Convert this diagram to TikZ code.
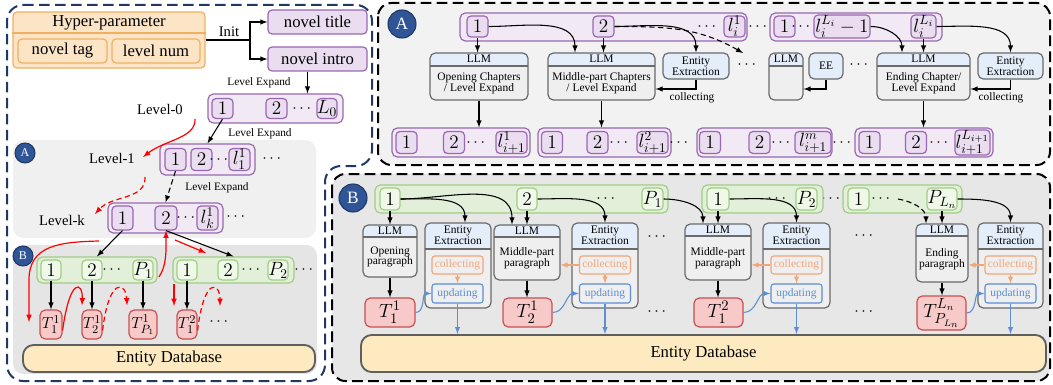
\documentclass[tikz,border=0pt]{standalone}
\usepackage{amsmath}
\usepackage{amssymb}
\usepackage{fontspec}
\setmainfont{Liberation Serif}
\usepackage{tikz}
\usetikzlibrary{arrows}
\usetikzlibrary{calc,shapes}

\definecolor{navy}{HTML}{1F3864}
\definecolor{navyfill}{HTML}{2F5597}
\definecolor{orgfill}{HTML}{FCE4C6}
\definecolor{orgline}{HTML}{F0B060}
\definecolor{purfill}{HTML}{F1EAF4}
\definecolor{purin}{HTML}{E9DDEF}
\definecolor{purline}{HTML}{9A68B2}
\definecolor{grnfill}{HTML}{E2EFD9}
\definecolor{grnin}{HTML}{EFF8E9}
\definecolor{grnline}{HTML}{A2CD86}
\definecolor{redfill}{HTML}{F8C9C9}
\definecolor{redline}{HTML}{C8504F}
\definecolor{dbfill}{HTML}{FDEAC0}
\definecolor{dbline}{HTML}{5F5F5F}
\definecolor{boxline}{HTML}{6A6A6A}
\definecolor{hdrfill}{HTML}{E4EEFA}
\definecolor{bodyfill}{HTML}{EFEFEF}
\definecolor{colline}{HTML}{F3A57A}
\definecolor{updline}{HTML}{5B8ED4}
\definecolor{panelA}{HTML}{F2F2F2}
\definecolor{panelB}{HTML}{E7E7E7}
\definecolor{leftA}{HTML}{F0F0F0}
\definecolor{leftB}{HTML}{E5E5E5}

\tikzset{
  wh/.style 2 args={minimum width=#1*0.75pt, minimum height=#2*0.75pt},
  txt/.style={font=\fontsize{12.5}{14}\selectfont},
  lvl/.style={font=\fontsize{11}{12}\selectfont},
  tiny/.style={font=\fontsize{8.5}{9}\selectfont},
  dots/.style={font=\fontsize{12}{14}\selectfont, inner sep=0pt},
  orgbox/.style={draw=orgline, fill=orgfill, rounded corners=3pt, line width=0.9pt, inner sep=0pt, txt},
  purout/.style={draw=purline, fill=purfill, rounded corners=4pt, line width=0.9pt},
  purbox/.style={draw=purline, fill=purin, rounded corners=3pt, line width=0.9pt, inner sep=0pt, font=\fontsize{14}{15}\selectfont},
  grnout/.style={draw=grnline, fill=grnfill, rounded corners=4pt, line width=0.9pt},
  grnbox/.style={draw=grnline, fill=grnin, rounded corners=3pt, line width=0.9pt, inner sep=0pt, font=\fontsize{14}{15}\selectfont},
  tbox/.style={draw=redline, fill=redfill, rounded corners=4pt, line width=0.9pt, inner sep=0pt, font=\fontsize{12.5}{14}\selectfont},
  tbig/.style={font=\fontsize{15}{16}\selectfont},
  dbbox/.style={draw=dbline, fill=dbfill, rounded corners=8pt, line width=1.4pt, inner sep=0pt, txt},
  llm/.style={draw=boxline, fill=bodyfill, rounded corners=4pt, line width=0.9pt, inner sep=0pt,
    path picture={\fill[hdrfill] (path picture bounding box.north west) rectangle ([yshift=-#1]path picture bounding box.north east);
      \draw[boxline, line width=0.9pt] ([yshift=-#1]path picture bounding box.north west) -- ([yshift=-#1]path picture bounding box.north east);}},
  eebox/.style={draw=boxline, fill=hdrfill, rounded corners=4pt, line width=0.9pt, inner sep=0pt, align=center, font=\fontsize{8.6}{8.4}\selectfont},
  hl/.style={anchor=center, inner sep=0pt, align=center, font=\fontsize{8.6}{8}\selectfont},
  colbox/.style={draw=colline, text=colline, rounded corners=2pt, line width=0.8pt, inner sep=0pt, font=\fontsize{8.6}{9}\selectfont},
  updbox/.style={draw=updline, text=updline, rounded corners=2pt, line width=0.8pt, inner sep=0pt, font=\fontsize{8.6}{9}\selectfont},
  circ/.style={circle, draw=navy, fill=navyfill, text=white, line width=0.8pt, inner sep=0pt},
  arr/.style={->, >=latex, line width=0.8pt},
  redarr/.style={->, >=latex, draw=red, line width=0.9pt},
  colarr/.style={->, >=latex, draw=colline, line width=0.8pt},
  updarr/.style={->, >=latex, draw=updline, line width=0.8pt},
  dsh/.style={dash pattern=on 4pt off 2.5pt},
  panel/.style={line width=1.5pt, dash pattern=on 8pt off 4pt, rounded corners=10pt},
}

\begin{document}
\begin{tikzpicture}[x=0.75pt, y=-0.75pt]
\useasboundingbox (0,0) rectangle (1053,385);

% panels
\draw[panel, draw=navy, rounded corners=12pt] (7,5) -- (372,5) -- (372,166) -- (325,166) -- (325,381) -- (7,381) -- cycle;
\fill[leftA, rounded corners=8pt] (13,140) rectangle (316,238);
\fill[leftB, rounded corners=8pt] (13,245) rectangle (317,374);
\draw[panel, fill=panelA] (378,3) rectangle (1050,165);
\draw[panel, fill=panelB] (332,174) rectangle (1050,381);

% hyper-parameter and init
\node[orgbox, wh={192}{56}] (hp) at (109,40) {};
\draw[orgline, line width=0.9pt] ([shift={(0,-7)}]hp.west) -- ([shift={(0,-7)}]hp.east);
\node[txt] (hpt) at (109,22.5) {Hyper-parameter};
\node[orgbox, wh={89}{24}] (tag) at (62.5,51) {novel tag};
\node[orgbox, wh={88}{24}] (lvn) at (156,51) {level num};
\node[purbox, txt, wh={99}{24}] (title) at (317.5,22) {novel title};
\node[purbox, txt, wh={99}{24}] (intro) at (317.5,59) {novel intro};
\coordinate (init) at (250,40);
\draw[line width=0.9pt] (hp.east) -- (init);
\draw[arr] (init) |- (title.west);
\draw[arr] (init) |- (intro.west);
\node[lvl] (initl) at (229,32) {Init};

% level-0
\node[purout, wh={135}{29}] (l0) at (275.5,108.5) {};
\node[purbox, wh={21}{20}] (l0a) at (222.5,108.5) {$1$};
\node[purbox, wh={21}{20}] (l0b) at (276.5,108.5) {$2$};
\node[dots] (l0d) at (303,108.5) {$\cdots$};
\node[purbox, wh={20}{20}] (l0c) at (327,108.5) {$L_0$};
\coordinate (ie) at ([shift={(-10,0)}]intro.south);
\draw[arr] (ie) -- (ie |- l0.north);
\node[tiny] (le0) at (259,83) {Level Expand};
\node[lvl] (lv0) at (160,109) {Level-0};

% level-1
\node[purout, wh={95}{31}] (l1) at (207.5,159.5) {};
\node[purbox, wh={21}{22}] (l1a) at (175.5,159.5) {$1$};
\node[purbox, wh={21}{22}] (l1b) at (201.5,159.5) {$2$};
\node[dots] (l1d) at (220,159.5) {$\cdots$};
\node[purbox, wh={21}{22}] (l1c) at (239.5,159.5) {$l_1^1$};
\node[dots] (l1e) at (273,159) {$\cdots$};
\node[tiny] (le1) at (260,134) {Level Expand};
\node[lvl] (lv1) at (112,158) {Level-1};
\draw[arr] (l0a.south) -- (l1.north);

% level-k
\node[purout, wh={115}{30}] (lk) at (165.5,218) {};
\node[purbox, wh={21}{24}] (lka) at (122.5,218) {$1$};
\node[purbox, wh={22}{24}] (lkb) at (166,218) {$2$};
\node[dots] (lkd) at (187,218) {$\cdots$};
\node[purbox, wh={21}{24}] (lkc) at (207.5,218) {$l_k^1$};
\node[dots] (lke) at (237,217) {$\cdots$};
\node[tiny] (le2) at (217,188) {Level Expand};
\node[lvl] (lvk) at (62,220) {Level-k};
\draw[arr, dsh] (l1a.south) -- (lk.north);

\node[circ, minimum size=15pt, font=\fontsize{9}{10}\selectfont] (ca1) at (25,153) {A};

% paragraphs, left
\node[grnout, wh={120}{26}] (g1) at (97,270) {};
\node[grnbox, wh={20}{20}] (g1a) at (51,270) {$1$};
\node[grnbox, wh={20}{20}] (g1b) at (92,270) {$2$};
\node[dots] (g1d) at (113,270) {$\cdots$};
\node[grnbox, wh={20}{20}] (g1c) at (143,270) {$P_1$};
\node[grnout, wh={121}{26}] (g2) at (233.5,270) {};
\node[grnbox, wh={20}{20}] (g2a) at (187,270) {$1$};
\node[grnbox, wh={20}{20}] (g2b) at (228,270) {$2$};
\node[dots] (g2d) at (252,270) {$\cdots$};
\node[grnbox, wh={20}{20}] (g2c) at (278,270) {$P_2$};
\node[dots] (g2e) at (305,270) {$\cdots$};
\draw[arr] (lka.south) -- (g1.north);
\draw[arr] (lkb.south) -- (g2.north);

\node[circ, minimum size=15pt, font=\fontsize{9}{10}\selectfont] (cb1) at (23,256) {B};

\node[tbox, wh={22}{29}] (t11) at (51,324.5) {$T_1^1$};
\node[tbox, wh={20}{29}] (t21) at (92,324.5) {$T_2^1$};
\node[tbox, wh={28}{29}] (tp1) at (143,324.5) {$T_{P_1}^1$};
\node[tbox, wh={20}{29}] (t12) at (187,324.5) {$T_1^2$};
\node[dots] (td) at (220,322) {$\cdots$};
\draw[arr] (g1a.south) -- (t11.north);
\draw[arr] (g1b.south) -- (t21.north);
\draw[arr] (g1c.south) -- (tp1.north);
\draw[arr] (g2a.south) -- (t12.north);

\node[dbbox, wh={292}{27}] (db1) at (169,358.5) {Entity Database};

% red flow, left
\coordinate (r0) at (195,119);
\coordinate (r1) at (143,157);
\coordinate (r2) at (145,177);
\coordinate (r3) at (95,214);
\coordinate (r4) at (99,241);
\coordinate (r5) at (29,322);
\coordinate (r6) at (175,240);
\coordinate (r7) at (206,253);
\coordinate (r8) at (159,277);
\coordinate (r9) at (174,284);
\coordinate (r10) at (174,306);
\draw[redarr] (r0) .. controls (196,138) and (165,140) .. (r1);
\draw[redarr, dsh] (r2) .. controls (146,200) and (112,195) .. (r3);
\draw[redarr] (r4) .. controls (60,242) and (29,245) .. (29,280) -- (r5);
\draw[redarr] (r6) -- (r7);
\draw[redarr] (r8) .. controls (167,265) and (166,250) .. (lkb.south);
\draw[redarr] (r9) -- (r10);
\draw[redarr] ([shift={(0,6)}]t11.east) .. controls (70,276) and (83,282) .. ([shift={(-10,-4)}]t21.north);
\draw[redarr, dsh] ([shift={(0,6)}]t21.east) .. controls (109,276) and (126,282) .. ([shift={(-16,-4)}]tp1.north);
\draw[redarr, dsh] ([shift={(0,6)}]t12.east) .. controls (204,276) and (220,282) .. ([shift={(0,-16)}]td.center);

% panel A
\node[circ, minimum size=21pt, font=\fontsize{13}{14}\selectfont] (ca2) at (402,24) {A};
\node[purout, wh={287}{28}] (ga1) at (603.5,27) {};
\node[purbox, wh={21}{21}] (ga1a) at (477.5,26.5) {$1$};
\node[purbox, wh={21}{21}] (ga1b) at (603.5,26.5) {$2$};
\node[dots] (ga1d) at (708,26.5) {$\cdots$};
\node[purbox, wh={21}{21}] (ga1c) at (734.5,26.5) {$l_i^1$};
\node[dots] (gad) at (759,26.5) {$\cdots$};
\node[purout, wh={172}{28}] (ga2) at (856,27) {};
\node[purbox, wh={21}{21}] (ga2a) at (784.5,26.5) {$1$};
\node[dots] (ga2d) at (802,26.5) {$\cdots$};
\node[purbox, wh={56}{21}] (ga2b) at (842,26.5) {$l_i^{L_i}-1$};
\node[purbox, wh={25}{21}] (ga2c) at (923.5,26.5) {$l_i^{L_i}$};

\node[llm=9.75pt, wh={98}{47}, label={[hl, yshift=-4.9pt]north:LLM}, label={[hl, yshift=-4.9pt]center:{Opening Chapters\\/ Level Expand}}] (llmA1) at (479,76.5) {};
\node[llm=9.75pt, wh={107}{47}, label={[hl, yshift=-4.9pt]north:LLM}, label={[hl, yshift=-4.9pt]center:{Middle-part Chapters\\/ Level Expand}}] (llmA2) at (601.5,76.5) {};
\node[eebox, wh={66}{26}] (eeA1) at (696,66) {Entity\\Extraction};
\node[dots] (Ad1) at (748,65) {$\cdots$};
\node[llm=9.75pt, wh={34}{47}, label={[hl, yshift=-4.9pt]north:LLM}] (llmA3) at (786,76.5) {};
\node[eebox, wh={34}{26}] (eeA2) at (826,66) {EE};
\node[dots] (Ad2) at (860,65) {$\cdots$};
\node[llm=9.75pt, wh={93}{47}, label={[hl, yshift=-4.9pt]north:LLM}, label={[hl, yshift=-4.9pt]center:{Ending Chapter/\\Level Expand}}] (llmA4) at (923.5,76.5) {};
\node[eebox, wh={65}{26}] (eeA3) at (1010.5,66) {Entity\\Extraction};

\coordinate (dA) at (743,53);
\draw[arr] (ga1a.south) -- (ga1a.south |- llmA1.north);
\draw[arr] (ga1a.east) to[out=0, in=90] ([shift={(-26.5,0)}]llmA2.north);
\draw[arr] (ga1b.south) -- (ga1b.south |- llmA2.north);
\draw[arr] (ga1b.east) to[out=0, in=90] (eeA1.north);
\draw[arr, dsh] (ga1b.east) to[out=0, in=150] (dA);
\draw[arr] (ga2b.east) to[out=0, in=90] ([shift={(-21.5,0)}]llmA4.north);
\draw[arr] (ga2c.south) -- (ga2c.south |- llmA4.north);
\draw[arr] (ga2c.east) to[out=0, in=90] (eeA3.north);
\draw[arr] (eeA1.south) |- ([shift={(0,12.5)}]llmA2.east);
\draw[arr] (eeA2.south) |- ([shift={(0,12.5)}]llmA3.east);
\draw[arr] (eeA3.south) |- ([shift={(0,12.5)}]llmA4.east);
\node[tiny] (colA1) at (692,98) {collecting};
\node[tiny] (colA2) at (1001,98) {collecting};

\node[purout, wh={138}{29}] (gb1) at (461,142.5) {};
\node[purbox, wh={21}{22}] (gb1a) at (406.5,142.5) {$1$};
\node[purbox, wh={21}{22}] (gb1b) at (454,142.5) {$2$};
\node[dots] (gb1d) at (477,142.5) {$\cdots$};
\node[purbox, wh={31}{22}] (gb1c) at (511.5,142.5) {$l_{i+1}^1$};
\node[purout, wh={133}{29}] (gb2) at (604.5,142.5) {};
\node[purbox, wh={21}{22}] (gb2a) at (552,142.5) {$1$};
\node[purbox, wh={21}{22}] (gb2b) at (597.5,142.5) {$2$};
\node[dots] (gb2d) at (620,142.5) {$\cdots$};
\node[purbox, wh={31}{22}] (gb2c) at (652.5,142.5) {$l_{i+1}^2$};
\node[dots] (gbd1) at (680,142.5) {$\cdots$};
\node[purout, wh={135}{29}] (gb3) at (764.5,142.5) {};
\node[purbox, wh={21}{22}] (gb3a) at (710,142.5) {$1$};
\node[purbox, wh={21}{22}] (gb3b) at (759.5,142.5) {$2$};
\node[dots] (gb3d) at (782,142.5) {$\cdots$};
\node[purbox, wh={36}{22}] (gb3c) at (813,142.5) {$l_{i+1}^m$};
\node[dots] (gbd2) at (843,142.5) {$\cdots$};
\node[purout, wh={138}{29}] (gb4) at (924,142.5) {};
\node[purbox, wh={21}{22}] (gb4a) at (869.5,142.5) {$1$};
\node[purbox, wh={21}{22}] (gb4b) at (916,142.5) {$2$};
\node[dots] (gb4d) at (940,142.5) {$\cdots$};
\node[purbox, wh={35}{22}] (gb4c) at (972.5,142.5) {$l_{i+1}^{L_{i+1}}$};
\draw[arr] (llmA1.south) -- (llmA1.south |- gb1.north);
\draw[arr] (llmA2.south) -- (llmA2.south |- gb2.north);
\draw[arr] (llmA4.south) -- (llmA4.south |- gb4.north);

% panel B
\node[circ, minimum size=21pt, font=\fontsize{13}{14}\selectfont] (cb2) at (353,198) {B};
\node[grnout, wh={293}{28}] (gc1) at (521.5,199) {};
\node[grnbox, wh={20}{22}] (gc1a) at (390,199) {$1$};
\node[grnbox, wh={20}{22}] (gc1b) at (527,199) {$2$};
\node[dots] (gc1d) at (607,199) {$\cdots$};
\node[grnbox, wh={21}{22}] (gc1c) at (652.5,199) {$P_1$};
\node[dots] (gcd) at (832,199) {$\cdots$};
\node[grnout, wh={121}{28}] (gc2) at (762.5,199) {};
\node[grnbox, wh={22}{22}] (gc2a) at (718,199) {$1$};
\node[dots] (gc2d) at (778,199) {$\cdots$};
\node[grnbox, wh={21}{22}] (gc2c) at (806.5,199) {$P_2$};
\node[grnout, wh={119}{28}] (gc3) at (902.5,199) {};
\node[grnbox, wh={21}{22}] (gc3a) at (858.5,199) {$1$};
\node[dots] (gc3d) at (882,199) {$\cdots$};
\node[grnbox, wh={30}{22}] (gc3c) at (942,199) {$P_{L_n}$};

\node[llm=9pt, wh={54}{52}, label={[hl, yshift=-4.5pt]north:LLM}, label={[hl, yshift=-4.5pt]center:{Opening\\paragraph}}] (llmB1) at (390,251) {};
\node[llm=19.5pt, wh={66}{85}, label={[hl, yshift=-9.75pt]north:{Entity\\Extraction}}] (eeB1) at (458,265.5) {};
\node[colbox, wh={51}{18}] (cB1) at (457.5,265) {collecting};
\node[updbox, wh={51}{19}] (uB1) at (457.5,293.5) {updating};
\node[llm=9pt, wh={66}{55}, label={[hl, yshift=-4.5pt]north:LLM}, label={[hl, yshift=-4.5pt]center:{Middle-part\\paragraph}}] (llmB2) at (527,252.5) {};
\node[llm=19.5pt, wh={66}{85}, label={[hl, yshift=-9.75pt]north:{Entity\\Extraction}}] (eeB2) at (605,265.5) {};
\node[colbox, wh={51}{18}] (cB2) at (605,265) {collecting};
\node[updbox, wh={51}{19}] (uB2) at (605,293.5) {updating};
\node[dots] (Bd1) at (658,237) {$\cdots$};
\node[dots] (Bd2) at (658,312) {$\cdots$};
\node[llm=9pt, wh={66}{56}, label={[hl, yshift=-4.5pt]north:LLM}, label={[hl, yshift=-4.5pt]center:{Middle-part\\paragraph}}] (llmB3) at (718,252) {};
\node[llm=19.5pt, wh={67}{85}, label={[hl, yshift=-9.75pt]north:{Entity\\Extraction}}] (eeB3) at (796.5,265.5) {};
\node[colbox, wh={51}{18}] (cB3) at (796.5,265) {collecting};
\node[updbox, wh={51}{19}] (uB3) at (796.5,293.5) {updating};
\node[dots] (Bd3) at (865,236) {$\cdots$};
\node[dots] (Bd4) at (865,312) {$\cdots$};
\node[llm=9pt, wh={52}{58}, label={[hl, yshift=-4.5pt]north:LLM}, label={[hl, yshift=-4.5pt]center:{Ending\\paragraph}}] (llmB4) at (942,253) {};
\node[llm=19.5pt, wh={65}{85}, label={[hl, yshift=-9.75pt]north:{Entity\\Extraction}}] (eeB4) at (1010.5,265.5) {};
\node[colbox, wh={51}{18}] (cB4) at (1010.5,265) {collecting};
\node[updbox, wh={51}{19}] (uB4) at (1010.5,293.5) {updating};

\node[tbox, tbig, wh={50}{29}] (tB1) at (390,312.5) {$T_1^1$};
\node[tbox, tbig, wh={49}{29}] (tB2) at (527.5,312.5) {$T_2^1$};
\node[tbox, tbig, wh={49}{29}] (tB3) at (718.5,312.5) {$T_1^2$};
\node[tbox, tbig, wh={49}{34}] (tB4) at (941.5,313) {$T_{P_{L_n}}^{L_n}$};

\node[dbbox, wh={685}{37}] (db2) at (703.5,353.5) {Entity Database};

\draw[arr] (gc1a.south) -- (gc1a.south |- llmB1.north);
\draw[arr] (gc1a.east) to[out=0, in=90] ([shift={(7,0)}]eeB1.north);
\draw[arr] (gc1a.east) to[out=0, in=90] ([shift={(-15,0)}]llmB2.north);
\draw[arr] (gc1b.south) -- (gc1b.south |- llmB2.north);
\draw[arr] (gc1b.east) to[out=0, in=90] (eeB2.north);
\draw[arr] (gc1c.east) to[out=0, in=90] ([shift={(-15,0)}]llmB3.north);
\draw[arr] (gc2a.south) -- (gc2a.south |- llmB3.north);
\draw[arr] (gc2a.east) to[out=0, in=90] (eeB3.north);
\draw[arr, dsh] ([shift={(16,0)}]gc3d.center) to[out=-10, in=90] ([shift={(-16,0)}]llmB4.north);
\draw[arr] (gc3c.south) -- (gc3c.south |- llmB4.north);
\draw[arr] (gc3c.east) to[out=0, in=90] (eeB4.north);

\draw[arr] (llmB1.south) -- (llmB1.south |- tB1.north);
\draw[arr] (llmB2.south) -- (llmB2.south |- tB2.north);
\draw[arr] (llmB3.south) -- (llmB3.south |- tB3.north);
\draw[arr] (llmB4.south) -- (llmB4.south |- tB4.north);

\draw[colarr] (cB1.south) -- (uB1.north);
\draw[colarr] (cB2.south) -- (uB2.north);
\draw[colarr] (cB3.south) -- (uB3.north);
\draw[colarr] (cB4.south) -- (uB4.north);
\draw[colarr] (cB2.west) -- (cB2.west -| llmB2.east);
\draw[colarr] (cB3.west) -- (cB3.west -| llmB3.east);
\draw[colarr] (cB4.west) -- (cB4.west -| llmB4.east);

\draw[updarr] (tB1.east) to[out=0, in=180] (uB1.west);
\draw[updarr] (tB2.east) to[out=0, in=180] (uB2.west);
\draw[updarr] (tB3.east) to[out=0, in=180] (uB3.west);
\draw[updarr] (tB4.east) to[out=0, in=180] (uB4.west);
\draw[updarr] (uB1.south) -- (uB1.south |- db2.north);
\draw[updarr] (uB2.south) -- (uB2.south |- db2.north);
\draw[updarr] (uB3.south) -- (uB3.south |- db2.north);
\draw[updarr] (uB4.south) -- (uB4.south |- db2.north);
\end{tikzpicture}
\end{document}
